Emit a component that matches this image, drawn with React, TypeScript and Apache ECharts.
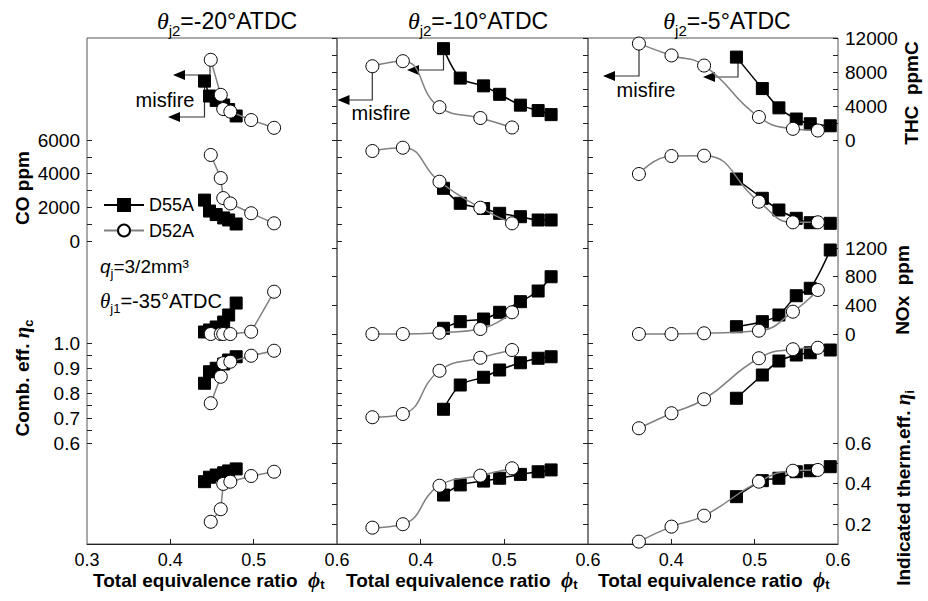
import { useEffect, useRef } from 'react';
import * as echarts from 'echarts';

// ---------- categories / tick labels ----------
const panelTitleValues = ['-20', '-10', '-5'];
const xLabelsPanel1 = [0.3, 0.4, 0.5, 0.6];
const xLabelsOther = [0.4, 0.5, 0.6];
const xTickValues = [0.4, 0.5];
const thcTicks = [0, 2000, 4000, 6000, 8000, 10000, 12000];
const thcLabels = [0, 4000, 8000, 12000];
const coTicks = [0, 1000, 2000, 3000, 4000, 5000, 6000];
const coLabels = [0, 2000, 4000, 6000];
const noxTicks = [0, 400, 800, 1200];
const noxLabels = [0, 400, 800, 1200];
const etacTicks = [0.6, 0.65, 0.7, 0.75, 0.8, 0.85, 0.9, 0.95, 1.0];
const etacLabels = [0.6, 0.7, 0.8, 0.9, 1.0];
const etaiTicks = [0.2, 0.3, 0.4, 0.5, 0.6];
const etaiLabels = [0.2, 0.4, 0.6];

// ---------- panel 1 : θj2 = -20°ATDC ----------
const phi55_p1 = [0.441, 0.447, 0.455, 0.464, 0.47, 0.479];
const phi52_p1 = [0.4485, 0.4605, 0.4635, 0.472, 0.497, 0.5245];
const thc55_p1 = [6960, 5200, 4680, 4140, 3600, 2840];
const thc52_p1 = [9480, 5340, 3660, 3360, 2360, 1440];
const co55_p1 = [2430, 1780, 1570, 1370, 1250, 1010];
const co52_p1 = [5110, 3740, 2550, 2230, 1650, 1050];
const nox55_p1 = [28, 56, 98, 167, 265, 432];
const nox52_p1 = [0, 0, 0, 0, 32, 590];
const etac55_p1 = [0.839, 0.885, 0.899, 0.916, 0.932, 0.945];
const etac52_p1 = [0.759, 0.865, 0.919, 0.925, 0.949, 0.969];
const etai55_p1 = [0.409, 0.431, 0.442, 0.453, 0.462, 0.472];
const etai52_p1 = [0.211, 0.273, 0.398, 0.409, 0.437, 0.458];

// ---------- panel 2 : θj2 = -10°ATDC ----------
const phi55_p2 = [0.4273, 0.4473, 0.4752, 0.4944, 0.5192, 0.5404, 0.5559];
const phi52_p2 = [0.3423, 0.3787, 0.4225, 0.4713, 0.5092];
const thc55_p2 = [10800, 7320, 6400, 5400, 4120, 3480, 3000];
const thc52_p2 = [8720, 9320, 3880, 2600, 1480];
const co55_p2 = [3130, 2240, 1930, 1645, 1443, 1247, 1247];
const co52_p2 = [5346, 5542, 3522, 1978, 1051];
const nox55_p2 = [80, 172, 209, 303, 451, 600, 799];
const nox52_p2 = [0, 0, 18, 70, 303];
const etac55_p2 = [0.735, 0.832, 0.863, 0.892, 0.921, 0.939, 0.945];
const etac52_p2 = [0.703, 0.716, 0.889, 0.941, 0.972];
const etai55_p2 = [0.343, 0.393, 0.412, 0.426, 0.445, 0.458, 0.467];
const etai52_p2 = [0.182, 0.199, 0.389, 0.439, 0.475];

// ---------- panel 3 : θj2 = -5°ATDC ----------
const phi55_p3 = [0.4781, 0.5092, 0.5291, 0.5499, 0.5667, 0.5907];
const phi52_p3 = [0.3611, 0.4002, 0.4393, 0.5051, 0.5459, 0.5758];
const thc55_p3 = [9800, 6080, 3800, 2480, 1920, 1680];
const thc52_p3 = [11400, 10000, 8800, 2720, 1320, 1120];
const co55_p3 = [3683, 2536, 1841, 1348, 1087, 1051];
const co52_p3 = [3980, 5049, 5067, 2334, 1111, 1111];
const nox55_p3 = [102, 172, 265, 534, 638, 1172];
const nox52_p3 = [0, 0, 10, 46, 311, 614];
const etac55_p3 = [0.779, 0.872, 0.928, 0.952, 0.961, 0.972];
const etac52_p3 = [0.659, 0.719, 0.775, 0.939, 0.975, 0.981];
const etai55_p3 = [0.335, 0.414, 0.426, 0.458, 0.463, 0.483];
const etai52_p3 = [0.113, 0.187, 0.241, 0.409, 0.463, 0.467];

// ---------- layout ----------
const FONT = "'Liberation Sans', Arial, Helvetica, sans-serif";
const SERIF = "'Liberation Serif', 'Times New Roman', serif";
const TOP = 38;
const BOTTOM = 544;
const PANEL_LEFT = [87, 337, 588];
const PANEL_WIDTH = [250, 251, 250];

// value-at-pixel calibration pairs for stacked bands: [v1, px1, v2, px2]
const measures = [
  { key: 'thc', side: 'right', ticks: thcTicks, labels: thcLabels, cal: [0, 140, 12000, 38.5], dec: 0 },
  { key: 'co', side: 'left', ticks: coTicks, labels: coLabels, cal: [0, 241, 6000, 140], dec: 0 },
  { key: 'nox', side: 'right', ticks: noxTicks, labels: noxLabels, cal: [0, 334, 1200, 248], dec: 0 },
  { key: 'etac', side: 'left', ticks: etacTicks, labels: etacLabels, cal: [1.0, 343, 0.6, 443], dec: 1 },
  { key: 'etai', side: 'right', ticks: etaiTicks, labels: etaiLabels, cal: [0.6, 443, 0.2, 524], dec: 1 },
];

const panels = [
  {
    phi55: phi55_p1, phi52: phi52_p1,
    d55: { thc: thc55_p1, co: co55_p1, nox: nox55_p1, etac: etac55_p1, etai: etai55_p1 },
    d52: { thc: thc52_p1, co: co52_p1, nox: nox52_p1, etac: etac52_p1, etai: etai52_p1 },
  },
  {
    phi55: phi55_p2, phi52: phi52_p2,
    d55: { thc: thc55_p2, co: co55_p2, nox: nox55_p2, etac: etac55_p2, etai: etai55_p2 },
    d52: { thc: thc52_p2, co: co52_p2, nox: nox52_p2, etac: etac52_p2, etai: etai52_p2 },
  },
  {
    phi55: phi55_p3, phi52: phi52_p3,
    d55: { thc: thc55_p3, co: co55_p3, nox: nox55_p3, etac: etac55_p3, etai: etai55_p3 },
    d52: { thc: thc52_p3, co: co52_p3, nox: nox52_p3, etac: etac52_p3, etai: etai52_p3 },
  },
];

function bandRange(cal: number[]) {
  const [v1, p1, v2, p2] = cal;
  const s = (v2 - v1) / (p2 - p1);
  return { max: v1 + (TOP - p1) * s, min: v1 + (BOTTOM - p1) * s };
}

function zip(xs: number[], ys: number[]) {
  return xs.map((x, i) => [x, ys[i]]);
}

function buildOption() {
  const grid: any[] = [];
  const xAxis: any[] = [];
  const yAxis: any[] = [];
  const series: any[] = [];

  panels.forEach((pd, p) => {
    grid.push({
      left: PANEL_LEFT[p], top: TOP, width: PANEL_WIDTH[p], height: BOTTOM - TOP,
      show: true, borderColor: '#555', borderWidth: 1, backgroundColor: 'transparent',
    });
    xAxis.push({
      type: 'value', gridIndex: p, min: 0.3, max: 0.6, position: 'bottom',
      axisLine: { show: true, onZero: false, lineStyle: { color: '#222', width: 1 } },
      axisTick: { show: true, inside: true, length: 5, customValues: xTickValues, lineStyle: { color: '#222' } },
      axisLabel: {
        show: true, customValues: p === 0 ? xLabelsPanel1 : xLabelsOther,
        formatter: (v: number) => v.toFixed(1), fontSize: 18, fontFamily: FONT, color: '#000', margin: 7,
      },
      splitLine: { show: false },
    });
    measures.forEach((m, mi) => {
      const r = bandRange(m.cal);
      const showLabels = (m.side === 'left' && p === 0) || (m.side === 'right' && p === 2);
      yAxis.push({
        type: 'value', gridIndex: p, position: m.side, min: r.min, max: r.max,
        axisLine: { show: false, onZero: false },
        splitLine: { show: false },
        axisTick: { show: true, inside: true, length: 5, customValues: m.ticks, lineStyle: { color: '#222' } },
        axisLabel: {
          show: showLabels, customValues: m.labels,
          formatter: (v: number) => (m.dec ? v.toFixed(1) : String(Math.round(v))),
          fontSize: 19, fontFamily: FONT, color: '#000', margin: 7,
        },
      });
      const yi = p * measures.length + mi;
      series.push({
        type: 'line', name: 'D55A', xAxisIndex: p, yAxisIndex: yi,
        data: zip(pd.phi55, (pd.d55 as any)[m.key]),
        symbol: 'rect', symbolSize: 12,
        itemStyle: { color: '#000', borderColor: '#000', borderWidth: 1 },
        lineStyle: { color: '#000', width: 1.5 },
        smooth: p > 0 ? 0.3 : false,
        z: 2,
      });
      series.push({
        type: 'line', name: 'D52A', xAxisIndex: p, yAxisIndex: yi,
        data: zip(pd.phi52, (pd.d52 as any)[m.key]),
        symbol: 'circle', symbolSize: 13,
        itemStyle: { color: '#fff', borderColor: '#000', borderWidth: 1 },
        lineStyle: { color: '#808080', width: 1.5 },
        smooth: p > 0 ? 0.5 : false,
        z: 3,
      });
    });
  });

  const subRich = (size: number, bold = false) => ({
    fontFamily: FONT, fontSize: size, lineHeight: size, verticalAlign: 'bottom', fill: '#000',
    fontWeight: bold ? 'bold' : 'normal',
  });

  const graphic: any[] = [];
  const titleCenters = [227, 478, 727];
  panelTitleValues.forEach((v, i) => {
    graphic.push({
      type: 'text', x: titleCenters[i], y: 21,
      style: {
        text: `{th|θ}{sub|j2}{n|=${v}°ATDC}`, align: 'center', verticalAlign: 'middle',
        rich: {
          th: { fontFamily: SERIF, fontStyle: 'italic', fontSize: 24, lineHeight: 34, verticalAlign: 'middle', fill: '#000' },
          sub: subRich(15),
          n: { fontFamily: FONT, fontSize: 23, lineHeight: 34, verticalAlign: 'middle', fill: '#000' },
        },
      },
    });
  });

  // x axis titles
  [93, 346, 598].forEach((x) => {
    graphic.push({
      type: 'text', x, y: 580,
      style: {
        text: '{b|Total equivalence ratio  }{phi|ϕ}{sub|t}', align: 'left', verticalAlign: 'middle',
        rich: {
          b: { fontFamily: FONT, fontWeight: 'bold', fontSize: 19, lineHeight: 22, verticalAlign: 'middle', fill: '#000' },
          phi: { fontFamily: SERIF, fontWeight: 'bold', fontStyle: 'italic', fontSize: 21, lineHeight: 22, verticalAlign: 'middle', fill: '#000' },
          sub: subRich(13, true),
        },
      },
    });
  });

  const rotTitle = (x: number, y: number, text: string, rich?: any) => ({
    type: 'text', x, y, rotation: Math.PI / 2,
    style: {
      text, align: 'center', verticalAlign: 'middle',
      fontFamily: FONT, fontWeight: 'bold', fontSize: 19, fill: '#000',
      rich,
    },
  });
  const etaRich = {
    b: { fontFamily: FONT, fontWeight: 'bold', fontSize: 19, lineHeight: 26, verticalAlign: 'middle', fill: '#000' },
    e: { fontFamily: SERIF, fontWeight: 'bold', fontStyle: 'italic', fontSize: 21, lineHeight: 26, verticalAlign: 'middle', fill: '#000' },
    sub: subRich(13, true),
  };
  graphic.push(rotTitle(22, 188, 'CO ppm'));
  graphic.push(rotTitle(22, 378, '{b|Comb. eff. }{e|η}{sub|c}', etaRich));
  graphic.push(rotTitle(911, 93, 'THC  ppmC'));
  graphic.push(rotTitle(902, 290, 'NOx  ppm'));
  graphic.push(rotTitle(903, 488, '{b|Indicated therm.eff. }{e|η}{sub|i}', etaRich));

  // condition annotations
  graphic.push({
    type: 'text', x: 100, y: 266,
    style: {
      text: '{q|q}{sub|j}{n|=3/2mm³}', align: 'left', verticalAlign: 'middle',
      rich: {
        q: { fontFamily: FONT, fontStyle: 'italic', fontSize: 19, lineHeight: 28, verticalAlign: 'middle', fill: '#000' },
        sub: subRich(13),
        n: { fontFamily: FONT, fontSize: 19, lineHeight: 28, verticalAlign: 'middle', fill: '#000' },
      },
    },
  });
  graphic.push({
    type: 'text', x: 100, y: 301,
    style: {
      text: '{th|θ}{sub|j1}{n|=-35°ATDC}', align: 'left', verticalAlign: 'middle',
      rich: {
        th: { fontFamily: SERIF, fontStyle: 'italic', fontSize: 21, lineHeight: 28, verticalAlign: 'middle', fill: '#000' },
        sub: subRich(13),
        n: { fontFamily: FONT, fontSize: 20, lineHeight: 28, verticalAlign: 'middle', fill: '#000' },
      },
    },
  });

  // misfire annotations
  const arrow = (pts: number[][], tipX: number) => {
    const y = pts[pts.length - 1][1];
    graphic.push({ type: 'polyline', shape: { points: pts.concat([[tipX + 6, y]]) }, style: { stroke: '#333', lineWidth: 1.2, fill: null }, z: 1 });
    graphic.push({ type: 'polygon', shape: { points: [[tipX, y], [tipX + 12, y - 5], [tipX + 12, y + 5]] }, style: { fill: '#000' }, z: 1 });
  };
  arrow([[210, 60], [210, 75]], 173);
  arrow([[204.5, 82], [204.5, 117]], 168);
  arrow([[443.5, 50], [443.5, 70]], 407);
  arrow([[372.3, 67], [372.3, 100]], 337.5);
  arrow([[639, 45], [639, 76]], 603);
  arrow([[738, 58], [738, 77]], 703);
  [[165, 100], [381, 113], [646, 90]].forEach(([x, y]) => {
    graphic.push({
      type: 'text', x, y,
      style: { text: 'misfire', align: 'center', verticalAlign: 'middle', fontFamily: FONT, fontSize: 20, fill: '#000' },
    });
  });

  return {
    animation: false,
    backgroundColor: '#fff',
    grid, xAxis, yAxis, series, graphic,
    legend: {
      data: ['D55A', 'D52A'], orient: 'vertical', left: 98, top: 191,
      itemWidth: 40, itemHeight: 15, itemGap: 7.5,
      textStyle: { fontSize: 18, fontFamily: FONT, color: '#000' },
    },
  };
}

export default function App() {
  const ref = useRef<HTMLDivElement>(null);
  useEffect(() => {
    const chart = echarts.init(ref.current!, null, { renderer: 'svg' });
    chart.setOption(buildOption() as any);
    return () => chart.dispose();
  }, []);
  return (
    <div
      ref={ref}
      style={{ position: 'fixed', left: 0, top: 0, width: 928, height: 601, background: '#fff' }}
    />
  );
}
